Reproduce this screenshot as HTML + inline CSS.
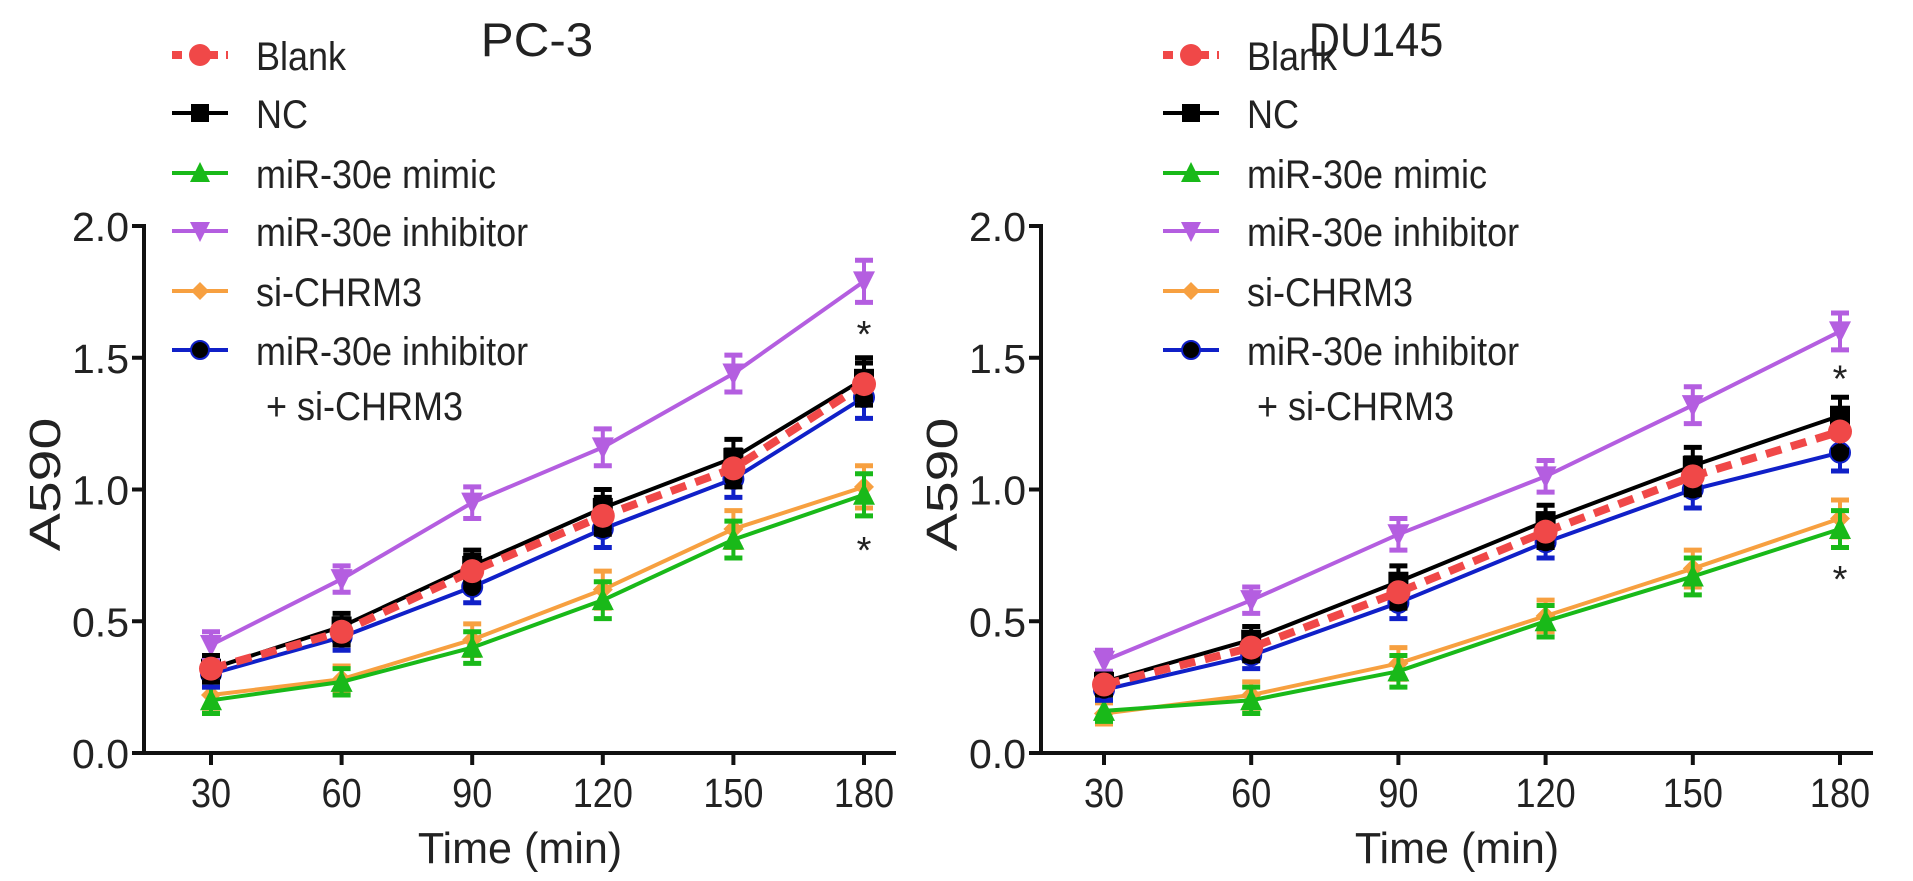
<!DOCTYPE html>
<html><head><meta charset="utf-8"><style>
html,body{margin:0;padding:0;background:#fff;}
svg{display:block;font-family:"Liberation Sans",Arial,sans-serif;}
</style></head><body>
<svg id="chart" width="1913" height="881" viewBox="0 0 1913 881" xmlns="http://www.w3.org/2000/svg"></svg>
<script>
const categories = [30, 60, 90, 120, 150, 180];
const yTicks = [0, 0.5, 1.0, 1.5, 2.0];
const yTickLabels = ["0.0", "0.5", "1.0", "1.5", "2.0"];
const seriesNames = ["Blank", "NC", "miR-30e mimic", "miR-30e inhibitor", "si-CHRM3", "miR-30e inhibitor + si-CHRM3"];
const pcBlank = [0.32, 0.46, 0.69, 0.90, 1.08, 1.40];
const pcNC = [0.32, 0.48, 0.71, 0.93, 1.12, 1.42];
const pcMimic = [0.20, 0.27, 0.40, 0.58, 0.81, 0.98];
const pcInhib = [0.41, 0.66, 0.95, 1.16, 1.44, 1.79];
const pcSi = [0.22, 0.28, 0.43, 0.62, 0.85, 1.01];
const pcCombo = [0.30, 0.44, 0.63, 0.85, 1.04, 1.35];
const pcErr = [0.05, 0.05, 0.06, 0.07, 0.07, 0.08];
const duBlank = [0.26, 0.40, 0.61, 0.84, 1.05, 1.22];
const duNC = [0.27, 0.43, 0.65, 0.88, 1.09, 1.28];
const duMimic = [0.16, 0.20, 0.31, 0.50, 0.67, 0.85];
const duInhib = [0.35, 0.58, 0.83, 1.05, 1.32, 1.60];
const duSi = [0.15, 0.22, 0.34, 0.52, 0.70, 0.89];
const duCombo = [0.24, 0.37, 0.57, 0.80, 1.00, 1.14];
const duErr = [0.04, 0.05, 0.06, 0.06, 0.07, 0.07];
const pcStars = [1.64, 0.82];
const duStars = [1.47, 0.71];

const NS = "http://www.w3.org/2000/svg";
const svg = document.getElementById("chart");
function mk(tag, attrs, parent) {
  const e = document.createElementNS(NS, tag);
  for (const k in attrs) e.setAttribute(k, attrs[k]);
  (parent || svg).appendChild(e);
  return e;
}
function txt(parent, x, y, s, size, anchor, sx, name) {
  const t = mk("text", {x: 0, y: 0, "text-anchor": anchor, "font-size": size, fill: "#222",
    transform: `translate(${x},${y}) scale(${sx},1)`}, parent);
  t.textContent = s;
  
  
  return t;
}
const colors = ["#f04848", "#000000", "#19b919", "#b45ee0", "#f7a040", "#1020c8"];
const markers = ["circle", "square", "tri", "itri", "diamond", "dotcircle"];

function drawMarker(g, type, x, y, c, r) {
  let m;
  if (type === "circle") m = mk("circle", {cx: x, cy: y, r: r + 2, fill: c}, g);
  else if (type === "square") m = mk("rect", {x: x - r, y: y - r, width: 2 * r, height: 2 * r, fill: c}, g);
  else if (type === "tri") m = mk("polygon", {points: `${x},${y - r - 2} ${x - r - 1},${y + r} ${x + r + 1},${y + r}`, fill: c}, g);
  else if (type === "itri") m = mk("polygon", {points: `${x},${y + r + 2} ${x - r - 1},${y - r} ${x + r + 1},${y - r}`, fill: c}, g);
  else if (type === "diamond") m = mk("polygon", {points: `${x},${y - r} ${x + r},${y} ${x},${y + r} ${x - r},${y}`, fill: c}, g);
  else m = mk("circle", {cx: x, cy: y, r: r, fill: "#000", stroke: c, "stroke-width": 2}, g);
  
  
}

function panel(cfg) {
  const g = mk("g", {});
  
  
  const x0 = cfg.axisX, y0 = cfg.y0, y2 = cfg.y2;
  const xs = v => cfg.x30 + (v - 30) / 150 * (cfg.x180 - cfg.x30);
  const ys = v => y0 - v / 2 * (y0 - y2);
  const ax = mk("line", {x1: x0, y1: y2 - 2, x2: x0, y2: y0, stroke: "#111", "stroke-width": 4}, g);
  
  
  const xa = mk("line", {x1: x0 - 2, y1: y0, x2: cfg.axisEnd, y2: y0, stroke: "#111", "stroke-width": 4}, g);
  
  
  yTicks.forEach((t, i) => {
    mk("line", {x1: x0 - 12, y1: ys(t), x2: x0, y2: ys(t), stroke: "#111", "stroke-width": 4}, g);
    txt(g, x0 - 15, ys(t) + 15, yTickLabels[i], 41, "end", 1.0, 'y-tick-label');
  });
  categories.forEach(c => {
    mk("line", {x1: xs(c), y1: y0, x2: xs(c), y2: y0 + 12, stroke: "#111", "stroke-width": 4}, g);
    txt(g, xs(c), y0 + 54, String(c), 41, "middle", 0.88, 'x-tick-label');
  });
  txt(g, (x0 + cfg.axisEnd) / 2, y0 + 110, "Time (min)", 44, "middle", 0.98, 'x-axis-title');
  const yt = mk("text", {x: 0, y: 0, "text-anchor": "middle", "font-size": 44, fill: "#222", transform: `translate(${x0 - 84},${ys(1) - 5}) rotate(-90) scale(1.3,1)`}, g);
  yt.textContent = "A590";
  
  
  txt(g, cfg.titleX, 56, cfg.title, 47, "middle", cfg.titleSx, 'panel-title');
  const order = [4, 2, 5, 1, 3, 0];
  order.forEach(si => {
    const vals = cfg.series[si];
    const c = colors[si];
    const sg = mk("g", {}, g);
    
    
    const pts = vals.map((v, i) => xs(categories[i]) + "," + ys(v)).join(" ");
    const pl = mk("polyline", {points: pts, fill: "none", stroke: c, "stroke-width": si === 0 ? 8 : 4}, sg);
    if (si === 0) pl.setAttribute("stroke-dasharray", "16 10");
    
    
    vals.forEach((v, i) => {
      const x = xs(categories[i]), e = cfg.err[i];
      const ec = si === 0 ? "#000" : c;
      mk("line", {x1: x, y1: ys(v + e), x2: x, y2: ys(v - e), stroke: ec, "stroke-width": 4}, sg);
      mk("line", {x1: x - 9, y1: ys(v + e), x2: x + 9, y2: ys(v + e), stroke: ec, "stroke-width": 5}, sg);
      mk("line", {x1: x - 9, y1: ys(v - e), x2: x + 9, y2: ys(v - e), stroke: ec, "stroke-width": 5}, sg);
      drawMarker(sg, markers[si], x, ys(v), c, 10);
    });
  });
  cfg.stars.forEach(s => {
    txt(g, xs(180), ys(s) + 26, "*", 38, "middle", 1, 'significance-star');
  });
  const lg = mk("g", {}, g);
  
  
  const rows = [55, 113, 173, 231, 291, 350];
  seriesNames.forEach((n, i) => {
    const ly = rows[i];
    const lx = cfg.legX;
    const le = mk("g", {}, lg);
    
    
    const ll = mk("line", {x1: lx - 28, y1: ly, x2: lx + 28, y2: ly, stroke: colors[i], "stroke-width": i === 0 ? 8 : 4}, le);
    if (i === 0) ll.setAttribute("stroke-dasharray", "10 8");
    drawMarker(le, markers[i], lx, ly, colors[i], 9);
    if (i === 5) {
      txt(le, lx + 56, ly + 15, "miR-30e inhibitor", 40, "start", 0.9, 'legend-label');
      txt(le, lx + 66, ly + 70, "+ si-CHRM3", 40, "start", 0.9, 'legend-label');
    } else txt(le, lx + 56, ly + 15, n, 40, "start", 0.9, 'legend-label');
  });
}

panel({name: "pc3-panel", title: "PC-3", titleX: 537, titleSx: 1.05, axisX: 144, axisEnd: 896, x30: 211, x180: 864, y0: 753, y2: 226, legX: 200,
  series: [pcBlank, pcNC, pcMimic, pcInhib, pcSi, pcCombo], err: pcErr, stars: pcStars});
panel({name: "du145-panel", title: "DU145", titleX: 1376, titleSx: 0.92, axisX: 1041, axisEnd: 1873, x30: 1104, x180: 1840, y0: 753, y2: 226, legX: 1191,
  series: [duBlank, duNC, duMimic, duInhib, duSi, duCombo], err: duErr, stars: duStars});
</script>
</body></html>
